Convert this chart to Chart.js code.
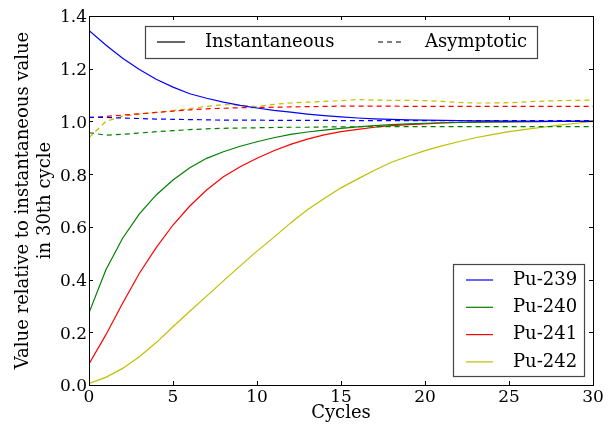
<!DOCTYPE html>
<html>
<head>
<meta charset="utf-8">
<script src="https://cdn.jsdelivr.net/npm/chart.js@4"></script>
<style>
  html, body { margin: 0; padding: 0; background: #fff; }
  #wrap { width: 616px; height: 428px; }
</style>
</head>
<body>
<div id="wrap"><canvas id="puChart"></canvas></div>
<script>
// ======================= DATA =======================

const cycles = [0, 1, 2, 3, 4, 5, 6, 7, 8, 9, 10, 11, 12, 13, 14, 15,
                16, 17, 18, 19, 20, 21, 22, 23, 24, 25, 26, 27, 28, 29, 30];

const isotopes = ['Pu-239', 'Pu-240', 'Pu-241', 'Pu-242'];

// instantaneous value relative to cycle 30 (solid lines)
const pu239Inst = [1.345, 1.29, 1.24, 1.197, 1.16, 1.13, 1.105, 1.088, 1.073, 1.061, 1.051,
                   1.042, 1.035, 1.028, 1.022, 1.017, 1.013, 1.010, 1.008, 1.006, 1.005,
                   1.004, 1.003, 1.002, 1.002, 1.001, 1.001, 1.000, 1.000, 1.000, 1.000];
const pu240Inst = [0.274, 0.436, 0.557, 0.649, 0.721, 0.778, 0.824, 0.860, 0.885, 0.906, 0.923,
                   0.938, 0.951, 0.960, 0.967, 0.974, 0.979, 0.984, 0.988, 0.991, 0.993,
                   0.995, 0.996, 0.997, 0.998, 0.998, 0.999, 0.999, 1.000, 1.000, 1.000];
const pu241Inst = [0.080, 0.190, 0.310, 0.424, 0.521, 0.607, 0.679, 0.740, 0.790, 0.828, 0.860,
                   0.889, 0.913, 0.933, 0.949, 0.961, 0.970, 0.978, 0.984, 0.988, 0.991,
                   0.994, 0.996, 0.997, 0.998, 0.999, 0.999, 1.000, 1.000, 1.000, 1.000];
const pu242Inst = [0.006, 0.029, 0.063, 0.107, 0.161, 0.221, 0.280, 0.337, 0.395, 0.452, 0.508,
                   0.560, 0.615, 0.665, 0.708, 0.748, 0.782, 0.815, 0.845, 0.868, 0.889,
                   0.907, 0.923, 0.938, 0.950, 0.961, 0.970, 0.978, 0.986, 0.993, 1.000];

// asymptotic value relative to cycle 30 (dashed lines)
const pu239Asym = [1.016, 1.015, 1.013, 1.011, 1.009, 1.008, 1.007, 1.006, 1.005, 1.005, 1.005,
                   1.004, 1.004, 1.004, 1.004, 1.003, 1.003, 1.003, 1.003, 1.003, 1.003,
                   1.003, 1.003, 1.003, 1.003, 1.003, 1.003, 1.003, 1.003, 1.003, 1.003];
const pu240Asym = [0.957, 0.948, 0.951, 0.956, 0.961, 0.965, 0.969, 0.972, 0.974, 0.975, 0.976,
                   0.977, 0.978, 0.978, 0.979, 0.979, 0.980, 0.980, 0.980, 0.980, 0.980,
                   0.980, 0.980, 0.980, 0.980, 0.980, 0.980, 0.980, 0.980, 0.980, 0.980];
const pu241Asym = [1.014, 1.019, 1.024, 1.029, 1.034, 1.039, 1.044, 1.048, 1.050, 1.052, 1.053,
                   1.054, 1.055, 1.056, 1.057, 1.058, 1.058, 1.058, 1.058, 1.057, 1.057,
                   1.057, 1.057, 1.057, 1.057, 1.057, 1.057, 1.057, 1.057, 1.057, 1.057];
const pu242Asym = [0.938, 1.000, 1.020, 1.028, 1.034, 1.041, 1.049, 1.057, 1.064, 1.062, 1.056,
                   1.065, 1.070, 1.073, 1.076, 1.079, 1.083, 1.081, 1.080, 1.080, 1.079,
                   1.076, 1.072, 1.070, 1.070, 1.071, 1.074, 1.077, 1.079, 1.080, 1.081];

const xTicks = [0, 5, 10, 15, 20, 25, 30];
const yTicks = [0.0, 0.2, 0.4, 0.6, 0.8, 1.0, 1.2, 1.4];

const styleNames = ['Instantaneous', 'Asymptotic'];


// ======================= STYLE =======================

const FONT = "'DejaVu Serif', 'Liberation Serif', serif";
const colors = ['#0000ff', '#008000', '#ff0000', '#bfbf00'];
const DASH = [5, 4];

const instSeries = [pu239Inst, pu240Inst, pu241Inst, pu242Inst];
const asymSeries = [pu239Asym, pu240Asym, pu241Asym, pu242Asym];

function toPoints(vals) {
    return cycles.map((c, i) => ({ x: c, y: vals[i] }));
}

const datasets = [];
isotopes.forEach((name, i) => {
    datasets.push({
        label: name,
        data: toPoints(instSeries[i]),
        borderColor: colors[i],
        borderWidth: 1.2,
        pointRadius: 0,
        tension: 0
    });
    datasets.push({
        label: name + ' asymptotic',
        data: toPoints(asymSeries[i]),
        borderColor: colors[i],
        borderWidth: 1.2,
        borderDash: DASH,
        pointRadius: 0,
        tension: 0
    });
});


// ======================= PLUGINS =======================

// inward tick marks on all four sides plus the closed frame
const framePlugin = {
    id: 'frame',
    afterDatasetsDraw(chart) {
        const { ctx, chartArea: a, scales: { x, y } } = chart;
        const len = 4;
        ctx.save();
        ctx.strokeStyle = '#000';
        ctx.lineWidth = 1;
        ctx.beginPath();
        xTicks.forEach(v => {
            const px = Math.round(x.getPixelForValue(v)) + 0.5;
            ctx.moveTo(px, a.bottom); ctx.lineTo(px, a.bottom - len);
            ctx.moveTo(px, a.top); ctx.lineTo(px, a.top + len);
        });
        yTicks.forEach(v => {
            const py = Math.round(y.getPixelForValue(v)) + 0.5;
            ctx.moveTo(a.left, py); ctx.lineTo(a.left + len, py);
            ctx.moveTo(a.right, py); ctx.lineTo(a.right - len, py);
        });
        ctx.stroke();
        ctx.strokeRect(Math.round(a.left) + 0.5, Math.round(a.top) + 0.5,
                       Math.round(a.right - a.left), Math.round(a.bottom - a.top));
        ctx.restore();
    }
};

// two legends drawn inside the plot: line style (top) and isotope colour (bottom right)
const legendPlugin = {
    id: 'twoLegends',
    afterDraw(chart) {
        const { ctx, chartArea: a } = chart;
        ctx.save();
        ctx.font = '18px ' + FONT;
        ctx.textBaseline = 'middle';
        ctx.fillStyle = '#000';
        ctx.lineWidth = 1.2;

        // top legend
        const tx = a.left + 56, ty = a.top + 10, tw = 392, th = 32;
        ctx.fillStyle = '#fff';
        ctx.fillRect(tx, ty, tw, th);
        ctx.strokeStyle = '#444';
        ctx.strokeRect(tx + 0.5, ty + 0.5, tw, th);
        const cy = ty + th / 2;
        ctx.strokeStyle = '#000';
        ctx.beginPath();
        ctx.moveTo(tx + 12, cy); ctx.lineTo(tx + 40, cy);
        ctx.stroke();
        ctx.setLineDash(DASH);
        ctx.beginPath();
        ctx.moveTo(tx + 233, cy); ctx.lineTo(tx + 258, cy);
        ctx.stroke();
        ctx.setLineDash([]);
        ctx.fillStyle = '#000';
        ctx.fillText(styleNames[0], tx + 60, cy);
        ctx.fillText(styleNames[1], tx + 280, cy);

        // bottom-right legend
        const bx = a.right - 140, by = a.bottom - 121, bw = 131, bh = 112;
        ctx.fillStyle = '#fff';
        ctx.fillRect(bx, by, bw, bh);
        ctx.strokeStyle = '#444';
        ctx.strokeRect(bx + 0.5, by + 0.5, bw, bh);
        isotopes.forEach((name, i) => {
            const ey = by + 16 + i * 27.3;
            ctx.strokeStyle = colors[i];
            ctx.beginPath();
            ctx.moveTo(bx + 13, ey); ctx.lineTo(bx + 40, ey);
            ctx.stroke();
            ctx.fillStyle = '#000';
            ctx.fillText(name, bx + 60, ey);
        });
        ctx.restore();
    }
};


// ======================= CHART =======================

const ctx = document.getElementById('puChart').getContext('2d');

new Chart(ctx, {
    type: 'line',
    data: { datasets: datasets },
    options: {
        responsive: true,
        maintainAspectRatio: false,
        animation: false,
        events: [],
        layout: { padding: { top: 16, right: 23, left: 0, bottom: 0 } },
        plugins: {
            legend: { display: false },
            tooltip: { enabled: false }
        },
        scales: {
            x: {
                type: 'linear',
                min: 0,
                max: 30,
                afterFit: s => { s.height = 43; },
                afterBuildTicks: s => { s.ticks = xTicks.map(v => ({ value: v })); },
                grid: { display: true, drawOnChartArea: false, drawTicks: false },
                border: { display: true, color: '#000', width: 1 },
                ticks: {
                    color: '#000',
                    padding: 2,
                    maxRotation: 0,
                    font: { family: FONT, size: 17 }
                },
                title: {
                    display: true,
                    text: 'Cycles',
                    color: '#000',
                    padding: { top: 0, bottom: 4 },
                    font: { family: FONT, size: 18 }
                }
            },
            y: {
                type: 'linear',
                min: 0,
                max: 1.4,
                afterFit: s => { s.width = 89; },
                afterBuildTicks: s => { s.ticks = yTicks.map(v => ({ value: v })); },
                grid: { display: true, drawOnChartArea: false, drawTicks: false },
                border: { display: true, color: '#000', width: 1 },
                ticks: {
                    color: '#000',
                    padding: 2,
                    labelOffset: 2,
                    font: { family: FONT, size: 17 },
                    callback: v => Number(v).toFixed(1)
                },
                title: {
                    display: true,
                    text: ['Value relative to instantaneous value', 'in 30th cycle'],
                    color: '#000',
                    padding: { top: 13, bottom: 0 },
                    font: { family: FONT, size: 18, lineHeight: 1.2 }
                }
            }
        }
    },
    plugins: [framePlugin, legendPlugin]
});
</script>
</body>
</html>
